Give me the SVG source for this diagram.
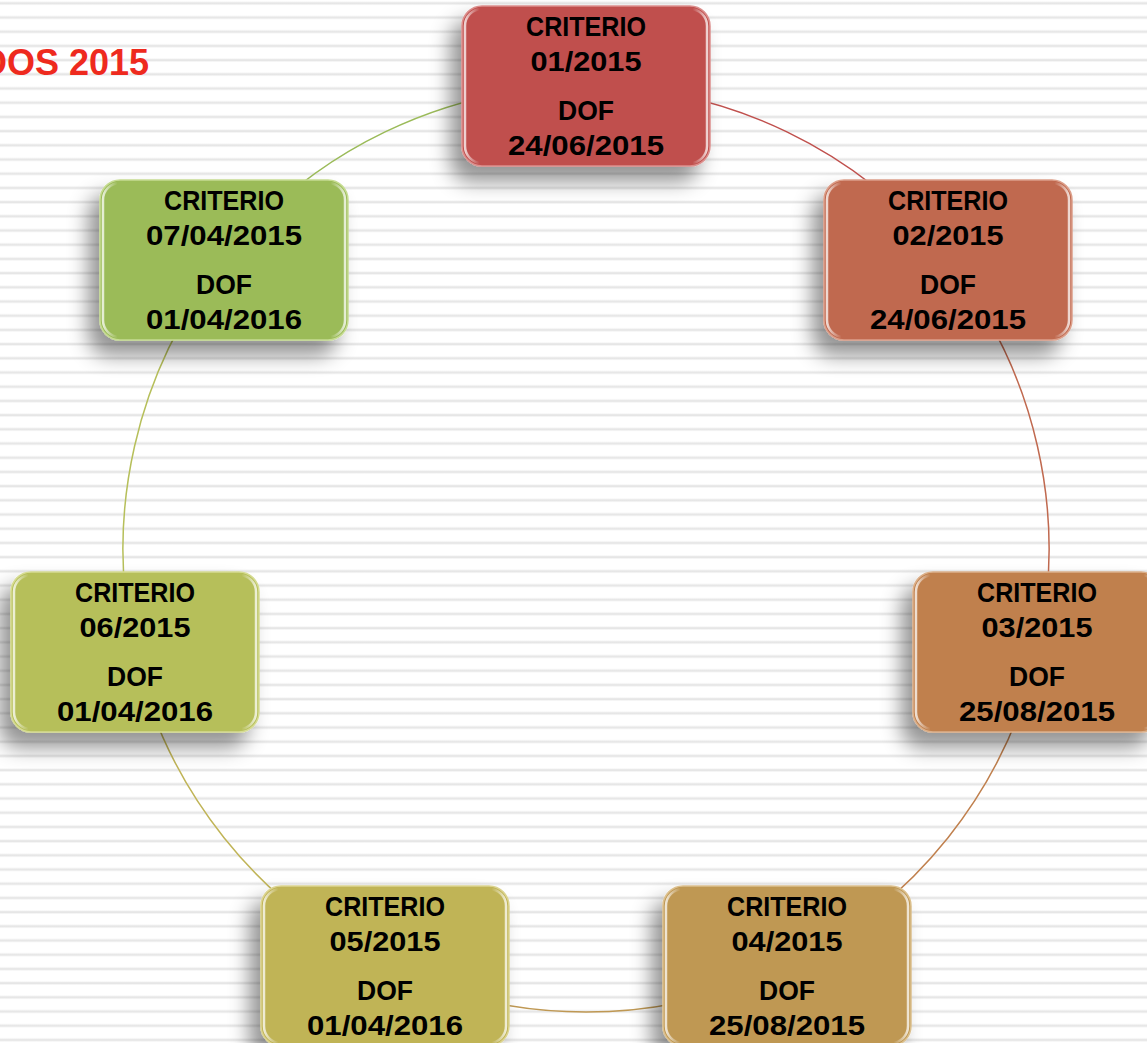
<svg xmlns="http://www.w3.org/2000/svg" width="1147" height="1043" viewBox="0 0 1147 1043">
  <defs>
    <style>
      .t { font-family: "Liberation Sans", Arial, sans-serif; font-weight: bold; font-size: 28.5px; fill: #000; text-anchor: middle; }
      .title { font-family: "Liberation Sans", Arial, sans-serif; font-weight: bold; font-size: 36px; fill: #ee2a1e; text-anchor: end; }
      .box { filter: url(#shadow); stroke-width: 1.5; }
      .gloss { fill: none; stroke: url(#gloss); stroke-width: 2.5; }
      .arc { fill: none; stroke-width: 1.5; }
    </style>
    <linearGradient id="band" x1="0" y1="0" x2="0" y2="1">
      <stop offset="0" stop-color="#ffffff"/>
      <stop offset="0.5" stop-color="#e0e0e0"/>
      <stop offset="1" stop-color="#ffffff"/>
    </linearGradient>
    <pattern id="stripes" patternUnits="userSpaceOnUse" x="0" y="1.3" width="40" height="14.2">
      <rect x="0" y="0" width="40" height="4" fill="url(#band)"/>
    </pattern>
    <linearGradient id="gloss" x1="0" y1="0" x2="1" y2="0">
      <stop offset="0" stop-color="#ffffff" stop-opacity="0.75"/>
      <stop offset="0.06" stop-color="#ffffff" stop-opacity="0"/>
      <stop offset="0.94" stop-color="#ffffff" stop-opacity="0"/>
      <stop offset="1" stop-color="#ffffff" stop-opacity="0.75"/>
    </linearGradient>
    <filter id="shadow" x="-30%" y="-30%" width="160%" height="180%">
      <feDropShadow dx="-11" dy="15" stdDeviation="10" flood-color="#000" flood-opacity="0.42"/>
    </filter>
  </defs>

  <rect width="1147" height="1043" fill="#ffffff"/>
  <rect width="1147" height="1043" fill="url(#stripes)"/>

  <text class="title" x="149" y="75">DOS 2015</text>

  <g id="connectors">
    <path class="arc" stroke="#c0504d" d="M586,86 A463,463 0 0 1 947.99,260.32"/>
    <path class="arc" stroke="#c0694f" d="M947.99,260.32 A463,463 0 0 1 1037.39,652.03"/>
    <path class="arc" stroke="#c0804e" d="M1037.39,652.03 A463,463 0 0 1 786.89,966.15"/>
    <path class="arc" stroke="#bf9853" d="M786.89,966.15 A463,463 0 0 1 385.11,966.15"/>
    <path class="arc" stroke="#c0b457" d="M385.11,966.15 A463,463 0 0 1 134.61,652.03"/>
    <path class="arc" stroke="#b6bf5a" d="M134.61,652.03 A463,463 0 0 1 224.01,260.32"/>
    <path class="arc" stroke="#9bbb59" d="M224.01,260.32 A463,463 0 0 1 586,86"/>
  </g>

  <g id="node1" transform="translate(462,6)">
    <rect class="box" width="248" height="160" rx="20" fill="#c0504d" stroke="#dc8f8d"/>
    <rect class="gloss" x="3" y="3" width="242" height="154" rx="17"/>
    <text class="t" x="124" y="30" textLength="120" lengthAdjust="spacingAndGlyphs">CRITERIO</text>
    <text class="t" x="124" y="65" textLength="111" lengthAdjust="spacingAndGlyphs">01/2015</text>
    <text class="t" x="124" y="114" textLength="56" lengthAdjust="spacingAndGlyphs">DOF</text>
    <text class="t" x="124" y="149" textLength="156" lengthAdjust="spacingAndGlyphs">24/06/2015</text>
  </g>

  <g id="node2" transform="translate(824,180)">
    <rect class="box" width="248" height="160" rx="20" fill="#c0694f" stroke="#dc9f8a"/>
    <rect class="gloss" x="3" y="3" width="242" height="154" rx="17"/>
    <text class="t" x="124" y="30" textLength="120" lengthAdjust="spacingAndGlyphs">CRITERIO</text>
    <text class="t" x="124" y="65" textLength="111" lengthAdjust="spacingAndGlyphs">02/2015</text>
    <text class="t" x="124" y="114" textLength="56" lengthAdjust="spacingAndGlyphs">DOF</text>
    <text class="t" x="124" y="149" textLength="156" lengthAdjust="spacingAndGlyphs">24/06/2015</text>
  </g>

  <g id="node3" transform="translate(913,572)">
    <rect class="box" width="248" height="160" rx="20" fill="#c0804e" stroke="#dcb08a"/>
    <rect class="gloss" x="3" y="3" width="242" height="154" rx="17"/>
    <text class="t" x="124" y="30" textLength="120" lengthAdjust="spacingAndGlyphs">CRITERIO</text>
    <text class="t" x="124" y="65" textLength="111" lengthAdjust="spacingAndGlyphs">03/2015</text>
    <text class="t" x="124" y="114" textLength="56" lengthAdjust="spacingAndGlyphs">DOF</text>
    <text class="t" x="124" y="149" textLength="156" lengthAdjust="spacingAndGlyphs">25/08/2015</text>
  </g>

  <g id="node4" transform="translate(663,886)">
    <rect class="box" width="248" height="160" rx="20" fill="#bf9853" stroke="#dcc08e"/>
    <rect class="gloss" x="3" y="3" width="242" height="154" rx="17"/>
    <text class="t" x="124" y="30" textLength="120" lengthAdjust="spacingAndGlyphs">CRITERIO</text>
    <text class="t" x="124" y="65" textLength="111" lengthAdjust="spacingAndGlyphs">04/2015</text>
    <text class="t" x="124" y="114" textLength="56" lengthAdjust="spacingAndGlyphs">DOF</text>
    <text class="t" x="124" y="149" textLength="156" lengthAdjust="spacingAndGlyphs">25/08/2015</text>
  </g>

  <g id="node5" transform="translate(261,886)">
    <rect class="box" width="248" height="160" rx="20" fill="#c0b457" stroke="#dcd490"/>
    <rect class="gloss" x="3" y="3" width="242" height="154" rx="17"/>
    <text class="t" x="124" y="30" textLength="120" lengthAdjust="spacingAndGlyphs">CRITERIO</text>
    <text class="t" x="124" y="65" textLength="111" lengthAdjust="spacingAndGlyphs">05/2015</text>
    <text class="t" x="124" y="114" textLength="56" lengthAdjust="spacingAndGlyphs">DOF</text>
    <text class="t" x="124" y="149" textLength="156" lengthAdjust="spacingAndGlyphs">01/04/2016</text>
  </g>

  <g id="node6" transform="translate(11,572)">
    <rect class="box" width="248" height="160" rx="20" fill="#b6bf5a" stroke="#d6dc92"/>
    <rect class="gloss" x="3" y="3" width="242" height="154" rx="17"/>
    <text class="t" x="124" y="30" textLength="120" lengthAdjust="spacingAndGlyphs">CRITERIO</text>
    <text class="t" x="124" y="65" textLength="111" lengthAdjust="spacingAndGlyphs">06/2015</text>
    <text class="t" x="124" y="114" textLength="56" lengthAdjust="spacingAndGlyphs">DOF</text>
    <text class="t" x="124" y="149" textLength="156" lengthAdjust="spacingAndGlyphs">01/04/2016</text>
  </g>

  <g id="node7" transform="translate(100,180)">
    <rect class="box" width="248" height="160" rx="20" fill="#9bbb59" stroke="#c6dc92"/>
    <rect class="gloss" x="3" y="3" width="242" height="154" rx="17"/>
    <text class="t" x="124" y="30" textLength="120" lengthAdjust="spacingAndGlyphs">CRITERIO</text>
    <text class="t" x="124" y="65" textLength="156" lengthAdjust="spacingAndGlyphs">07/04/2015</text>
    <text class="t" x="124" y="114" textLength="56" lengthAdjust="spacingAndGlyphs">DOF</text>
    <text class="t" x="124" y="149" textLength="156" lengthAdjust="spacingAndGlyphs">01/04/2016</text>
  </g>
</svg>
